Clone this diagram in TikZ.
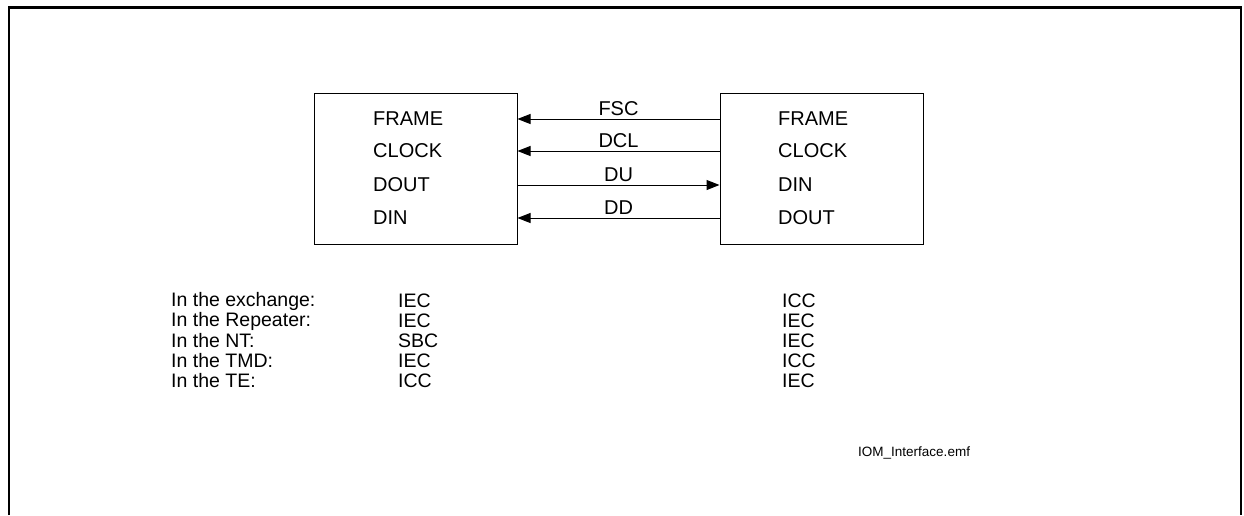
\documentclass[tikz,border=0pt]{standalone}
\usepackage{fontspec}
\setmainfont{Liberation Sans}
\usetikzlibrary{arrows.meta, positioning}

\begin{document}
\begin{tikzpicture}[x=1pt, y=-1pt,
  unit/.style={draw, line width=1pt, minimum width=203pt, minimum height=151pt,
               inner sep=0pt},
  pin/.style={anchor=west, inner sep=0pt, font=\fontsize{20}{24}\selectfont},
  sig/.style={-{Triangle[length=13pt, width=10pt]}, line width=1pt},
  siglabel/.style={above=3pt, inner sep=0pt, font=\fontsize{20}{24}\selectfont},
  row/.style={anchor=west, inner sep=0pt, font=\fontsize{19.5}{22}\selectfont},
]
  \useasboundingbox (0,0) rectangle (1244,515);
  \draw[line width=2.8pt] (9,515) -- (9,7.5) -- (1241,7.5) -- (1241,515);

  \node[unit] (cpu) at (415.5,168.5) {};
  \node[unit] (peer) at (821.5,168.5) {};

  \node[pin] (lframe) at (373,119) {FRAME};
  \node[pin] (lclock) at (373,151) {CLOCK};
  \node[pin] (ldout) at (373,185) {DOUT};
  \node[pin] (ldin) at (373,218) {DIN};

  \node[pin] (rframe) at (778,119) {FRAME};
  \node[pin] (rclock) at (778,151) {CLOCK};
  \node[pin] (rdin) at (778,185) {DIN};
  \node[pin] (rdout) at (778,218) {DOUT};

  \draw[sig] (peer.west |- rframe) -- (cpu.east |- lframe)
    node[midway, siglabel] {FSC};
  \draw[sig] (peer.west |- rclock) -- (cpu.east |- lclock)
    node[midway, siglabel] {DCL};
  \draw[sig] (cpu.east |- ldout) -- (peer.west |- rdin)
    node[midway, siglabel] {DU};
  \draw[sig] (peer.west |- rdout) -- (cpu.east |- ldin)
    node[midway, siglabel] {DD};

  \node[row] (exch) at (171,301) {In the exchange:};
  \node[row] (rep) at (171,321) {In the Repeater:};
  \node[row] (nt) at (171,341) {In the NT:};
  \node[row] (tmd) at (171,361) {In the TMD:};
  \node[row] (te) at (171,381) {In the TE:};

  \node[row] (exchl) at (398,301) {IEC};
  \node[row] (repl) at (398,321) {IEC};
  \node[row] (ntl) at (398,341) {SBC};
  \node[row] (tmdl) at (398,361) {IEC};
  \node[row] (tel) at (398,381) {ICC};

  \node[row] (exchr) at (782,301) {ICC};
  \node[row] (repr) at (782,321) {IEC};
  \node[row] (ntr) at (782,341) {IEC};
  \node[row] (tmdr) at (782,361) {ICC};
  \node[row] (ter) at (782,381) {IEC};

  \node[anchor=west, inner sep=0pt, font=\fontsize{13.5}{16}\selectfont]
    (file) at (858,453) {IOM\_Interface.emf};
\end{tikzpicture}
\end{document}
